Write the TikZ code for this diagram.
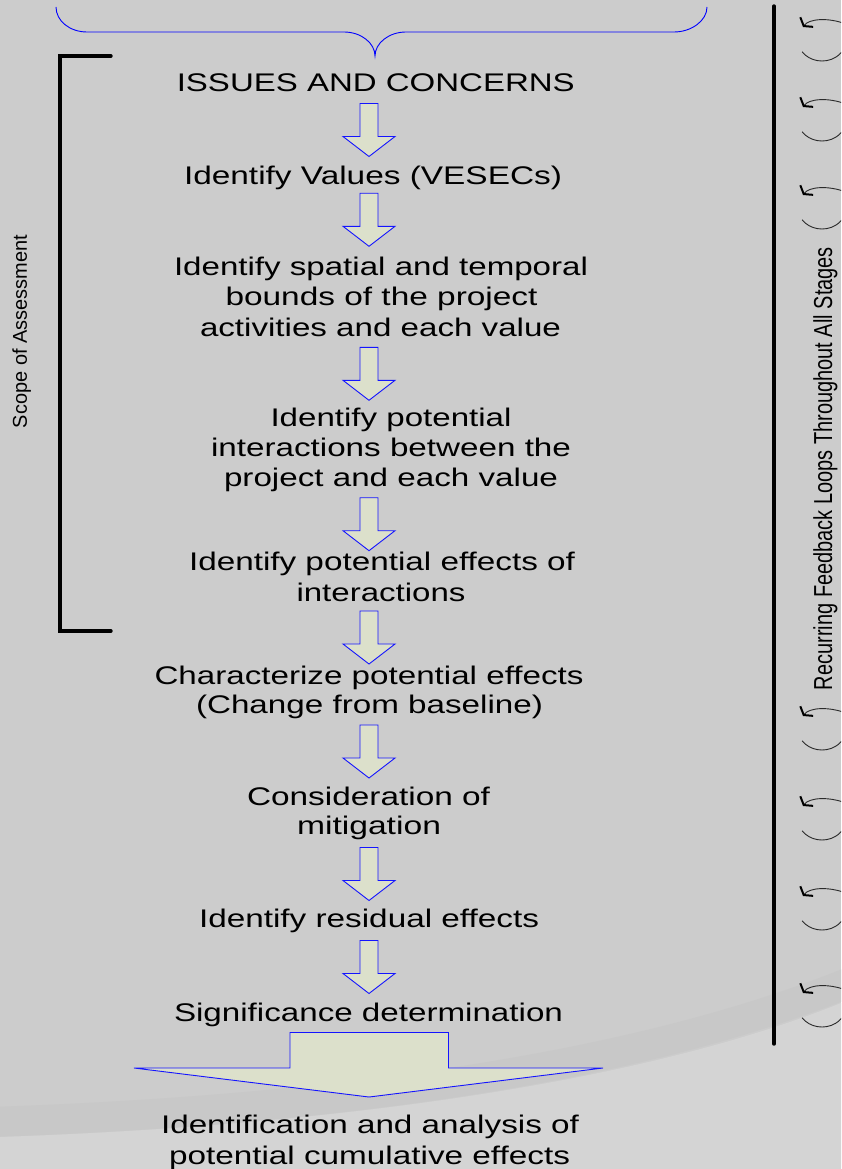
\documentclass[tikz,border=0pt]{standalone}
\usepackage{fontspec}
\setmainfont{Liberation Sans}
\usepackage{graphicx}
\usetikzlibrary{arrows.meta}
\definecolor{bg}{HTML}{CCCCCC}
\definecolor{bglight}{HTML}{D4D4D4}
\definecolor{bgdark}{HTML}{C8C8C8}
\definecolor{arrowfill}{HTML}{DCE0CB}
\definecolor{arrowline}{HTML}{1414FF}
\definecolor{loopgray}{HTML}{2A2A2A}
\newlength\fitlen
\newcommand\fitto[2]{\settowidth{\fitlen}{#2}\pgfmathsetmacro\fitfac{#1/\fitlen}\scalebox{\fitfac}[1]{#2}}
\tikzset{
  txt/.style={font=\fontsize{25.5}{29}\selectfont, inner sep=0pt, anchor=base},
  flowarrow/.pic={\draw[arrowline, fill=arrowfill, line width=0.9pt]
     (-9,0) -- (9,0) -- (9,33) -- (26,33) -- (0,53) -- (-26,33) -- (-9,33) -- cycle;},
  loopmark/.pic={
     \draw[loopgray, line width=0.9pt, {Straight Barb[length=5pt,width=16pt,line width=2pt,black]}-]
        (-19,-13) .. controls (-13,-21) and (5,-23) .. (24,-16);
     \draw[loopgray, line width=0.9pt]
        (146:24 and 21) arc[start angle=146, end angle=20, x radius=24, y radius=21];},
  thickline/.style={line width=3.4pt, line cap=round, line join=miter}
}
\begin{document}
\begin{tikzpicture}[x=1pt, y=-1pt]
\path[use as bounding box] (0,0) rectangle (841,1169);
\clip (0,0) rectangle (841,1169);
% background
\fill[bg] (0,0) rectangle (841,1169);
\draw[bgdark, line width=30pt] (-10,1122) .. controls (350,1110) and (650,1065) .. (860,978);
\fill[bglight] (0,1137) .. controls (350,1125) and (650,1080) .. (841,1003) -- (841,1169) -- (0,1169) -- cycle;

% top brace
\draw[blue, line width=0.9pt] (56,7) .. controls (56,21) and (70,32) .. (87,32) -- (344,32)
   .. controls (361,32) and (375,43) .. (375,56) .. controls (375,43) and (389,32) .. (406,32)
   -- (674,32) .. controls (691,32) and (707,21) .. (707,7);

% scope bracket
\draw[thickline] (111,56) -- (60,56) -- (60,631) -- (111,631);
\node[font=\fontsize{20}{24}\selectfont, inner sep=0pt, anchor=base, rotate=90] (scope) at (27,331.5) {\fitto{193}{Scope of Assessment}};

% feedback line and loops
\draw[thickline] (774,6) -- (774,1044);
\node[font=\fontsize{26}{28}\selectfont, inner sep=0pt, anchor=base, rotate=90] (recur) at (832,468.5) {\fitto{443}{Recurring Feedback Loops Throughout All Stages}};
\foreach \yy in {40,120,208,729,819,909,1006} { \pic at (822,\yy) {loopmark}; }

% flow texts
\node[txt] (t1) at (375.8,91.7) {\fitto{398}{ISSUES AND CONCERNS}};
\node[txt] (t2) at (373,185) {\fitto{378}{Identify Values (VESECs)}};
\node[txt] (t3a) at (381,275) {\fitto{414}{Identify spatial and temporal}};
\node[txt] (t3b) at (381.5,305) {\fitto{312}{bounds of the project}};
\node[txt] (t3c) at (380.5,336) {\fitto{361}{activities and each value}};
\node[txt] (t4a) at (391,426.7) {\fitto{241}{Identify potential}};
\node[txt] (t4b) at (391,456.7) {\fitto{360}{interactions between the}};
\node[txt] (t4c) at (391,486.7) {\fitto{334}{project and each value}};
\node[txt] (t5a) at (382,570.7) {\fitto{386}{Identify potential effects of}};
\node[txt] (t5b) at (381,601) {\fitto{169}{interactions}};
\node[txt] (t6a) at (369,684) {\fitto{429}{Characterize potential effects}};
\node[txt] (t6b) at (369.5,713) {\fitto{347}{(Change from baseline)}};
\node[txt] (t7a) at (368.5,805) {\fitto{243}{Consideration of}};
\node[txt] (t7b) at (369,834) {\fitto{144}{mitigation}};
\node[txt] (t8) at (369,927) {\fitto{340}{Identify residual effects}};
\node[txt] (t9) at (368.5,1021) {\fitto{389}{Significance determination}};
\node[txt] (t10a) at (370,1133) {\fitto{418}{Identification and analysis of}};
\node[txt] (t10b) at (369.5,1164) {\fitto{401}{potential cumulative effects}};

% flow arrows
\pic at (369,103.5) {flowarrow};
\pic at (369,193.3) {flowarrow};
\pic at (369,347.3) {flowarrow};
\pic at (369,497.7) {flowarrow};
\pic at (369,611) {flowarrow};
\pic at (369,725) {flowarrow};
\pic at (369,847.5) {flowarrow};
\pic at (369,940.5) {flowarrow};

% big arrow
\draw[arrowline, fill=arrowfill, line width=0.9pt]
  (290,1068) -- (290,1032.5) -- (448.5,1032.5) -- (448.5,1068) -- (603,1068)
  -- (369,1097) -- (134,1068) -- cycle;
\end{tikzpicture}
\end{document}
